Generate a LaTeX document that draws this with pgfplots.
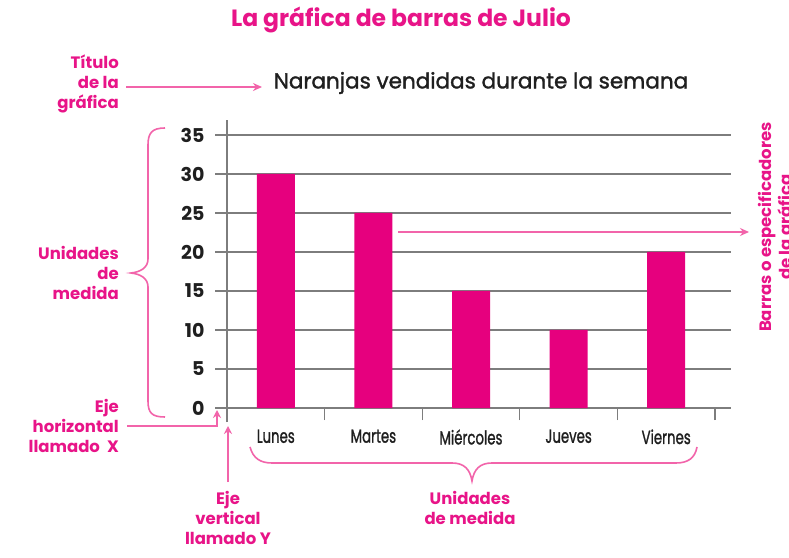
\documentclass[border=0pt]{standalone}
\usepackage{fontspec}
\setmainfont{Poppins}
\newfontfamily\medfont{Poppins}[FakeBold=1.5]
\usepackage{pgfplots}
\pgfplotsset{compat=1.18}
\usetikzlibrary{arrows.meta}
\definecolor{barpink}{RGB}{230,0,126}
\definecolor{txtpink}{RGB}{232,20,136}
\definecolor{linepink}{RGB}{242,100,170}
\definecolor{gridgray}{RGB}{125,125,125}
\newcommand\cond[1]{\scalebox{0.7}[1]{#1}}
\begin{document}
\begin{tikzpicture}[x=1pt,y=1pt]
\useasboundingbox (0,0) rectangle (789,557);
\fill[white] (0,0) rectangle (789,557);
\begin{axis}[
  at={(227pt,149pt)}, anchor=south west,
  scale only axis, width=504pt, height=288pt,
  xmin=-0.5, xmax=4.664, ymin=0, ymax=36.92,
  axis line style={draw=none},
  clip=false,
  ytick={0,5,...,35},
  ymajorgrids, grid style={gridgray, line width=1.3pt},
  tick pos=left, tick align=outside, major tick length=12pt,
  tick style={gridgray, line width=1.3pt},
  xtick={-0.5,0.5,1.5,2.5,3.5,4.5},
  xticklabels={},
  extra x ticks={0,1,2,3,4},
  extra x tick labels={\cond{Lunes},\cond{Martes},\cond{Miércoles},\cond{Jueves},\cond{Viernes}},
  extra x tick style={tick style={draw=none}, xticklabel style={anchor=north, yshift=-6pt, font=\medfont\fontsize{19}{19}\selectfont, text=black!88}},
  /pgf/number format/assume math mode=true,
  yticklabel style={font=\bfseries\fontsize{19}{19}\selectfont, text=black!88, xshift=-7pt},
]
\draw[gridgray, line width=1.3pt] (axis cs:-0.5,-1.795) -- (axis cs:-0.5,36.92);
\addplot[ybar, bar width=38pt, fill=barpink, draw=none] coordinates {(0,30) (1,25) (2,15) (3,10) (4,20)};
\end{axis}
% titles
\node[text=txtpink, font=\bfseries\fontsize{23.5}{23.5}\selectfont] at (401,537) {La gráfica de barras de Julio};
\node[text=black!88, font=\medfont\fontsize{21.5}{21.5}\selectfont] at (481,474) {Naranjas vendidas durante la semana};
% left annotations
\node[text=txtpink, font=\bfseries\fontsize{16.5}{20}\selectfont, align=right, anchor=east, inner sep=0pt] at (119,473) {Título\\de la\\gráfica};
\draw[linepink, line width=1.6pt, -{Stealth[length=9pt,width=8pt]}] (126,470) -- (262,470);
\node[text=txtpink, font=\bfseries\fontsize{16.5}{20}\selectfont, align=right, anchor=east, inner sep=0pt] at (119,284) {Unidades\\de\\medida};
\draw[linepink, line width=1.6pt] (165,429) .. controls (152,429) and (148,424) .. (148,412) -- (148,298) .. controls (148,289) and (140,285) .. (131,284) .. controls (140,283) and (148,279) .. (148,270) -- (148,156) .. controls (148,144) and (152,140) .. (165,140);
\node[text=txtpink, font=\bfseries\fontsize{16.5}{20}\selectfont, align=right, anchor=east, inner sep=0pt] at (119,131) {Eje\\horizontal\\llamado~~X};
\draw[linepink, line width=1.6pt, -{Stealth[length=8pt,width=8pt]}] (127,131) -- (217,131) -- (217,147);
\draw[linepink, line width=1.6pt, -{Stealth[length=8pt,width=8pt]}] (228,75) -- (228,131);
\node[text=txtpink, font=\bfseries\fontsize{16.5}{20}\selectfont, align=center, inner sep=0pt] at (228,39) {Eje\\vertical\\llamado Y};
% bottom brace
\draw[linepink, line width=1.6pt] (250,110) .. controls (253,99) and (260,94) .. (272,94) -- (452,94) .. controls (464,94) and (470,88) .. (472,76) .. controls (474,88) and (480,94) .. (492,94) -- (676,94) .. controls (688,94) and (695,99) .. (697,110);
\node[text=txtpink, font=\bfseries\fontsize{16.5}{20}\selectfont, align=center, inner sep=0pt] at (470,49) {Unidades\\de medida};
% right annotation
\draw[linepink, line width=1.6pt, -{Stealth[length=9pt,width=8pt]}] (398,325) -- (749,325);
\node[text=txtpink, font=\bfseries\fontsize{16.5}{20}\selectfont, align=center, rotate=90, inner sep=0pt] at (777,330) {Barras o especificadores\\de la gráfica};
\end{tikzpicture}
\end{document}
